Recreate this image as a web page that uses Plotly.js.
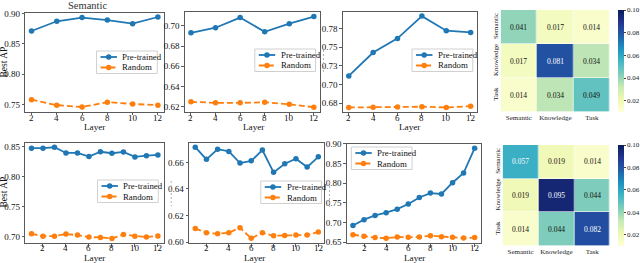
<!DOCTYPE html>
<html>
<head>
<meta charset="utf-8">
<script src="https://cdn.plot.ly/plotly-3.0.1.min.js"></script>
<style>html,body{margin:0;padding:0;background:#fff;}#chart{width:640px;height:263px;}</style>
</head>
<body>
<div id="chart"></div>
<script>
// ---------- data ----------
const layersTop = [2, 4, 6, 8, 10, 12];
const layersBottom = [1, 2, 3, 4, 5, 6, 7, 8, 9, 10, 11, 12];

const semPreTop   = [0.871, 0.887, 0.893, 0.889, 0.883, 0.894];
const semRandTop  = [0.758, 0.749, 0.746, 0.754, 0.751, 0.749];
const knowPreTop  = [0.693, 0.698, 0.708, 0.694, 0.702, 0.709];
const knowRandTop = [0.625, 0.624, 0.624, 0.6245, 0.6226, 0.6197];
const taskPreTop  = [0.7115, 0.743, 0.762, 0.792, 0.7723, 0.770];
const taskRandTop = [0.669, 0.6693, 0.6695, 0.670, 0.669, 0.6707];

const semPreBot   = [0.848, 0.848, 0.8495, 0.840, 0.840, 0.834, 0.842, 0.8395, 0.8417, 0.8333, 0.8355, 0.8366];
const semRandBot  = [0.7045, 0.7006, 0.7006, 0.704, 0.7023, 0.699, 0.6984, 0.6967, 0.7034, 0.7006, 0.699, 0.701];
const knowPreBot  = [0.6715, 0.6623, 0.670, 0.6683, 0.6595, 0.6612, 0.6693, 0.6525, 0.659, 0.6628, 0.6565, 0.6642];
const knowRandBot = [0.6103, 0.607, 0.6063, 0.607, 0.6108, 0.6028, 0.607, 0.6047, 0.605, 0.6053, 0.6053, 0.6075];
const taskPreBot  = [0.6924, 0.7074, 0.718, 0.725, 0.734, 0.747, 0.7636, 0.775, 0.7727, 0.8013, 0.826, 0.889];
const taskRandBot = [0.669, 0.665, 0.6617, 0.660, 0.6633, 0.6625, 0.6633, 0.6666, 0.664, 0.6625, 0.6608, 0.6617];

const seriesNames = ['Pre-trained', 'Random'];
const heatCats = ['Semantic', 'Knowledge', 'Task'];
const heatTop = [[0.041, 0.017, 0.014], [0.017, 0.081, 0.034], [0.014, 0.034, 0.049]];
const heatBot = [[0.057, 0.019, 0.014], [0.019, 0.095, 0.044], [0.014, 0.044, 0.082]];
const colorbarTicks = [0.02, 0.04, 0.06, 0.08, 0.10];

const yTicksP1 = [0.75, 0.80, 0.85, 0.90];
const yTicksP2 = [0.62, 0.64, 0.66, 0.68, 0.70];
const yTicksP3 = [0.675, 0.70, 0.725, 0.75, 0.775];
const yTextP3  = ['0.68', '0.70', '0.73', '0.75', '0.78'];
const yTicksP4 = [0.70, 0.75, 0.80, 0.85];
const yTicksP5 = [0.60, 0.62, 0.64, 0.66];
const yTicksP6 = [0.65, 0.70, 0.75, 0.80, 0.85, 0.90];
const xTicks = [2, 4, 6, 8, 10, 12];

// ---------- helpers ----------
const W = 640, H = 263;
const px = x => x / W;
const py = y => 1 - y / H;
const SERIF = 'Liberation Serif';
const BLUE = '#1f77b4', ORANGE = '#ff7f0e';
const FRAME = '#5a5a5a';

const panels = [
  {id: 1, xd: [25.3, 165], yd: [12.5, 111.5], xr: [1.5, 12.5], yr: [0.7386, 0.9014], yt: yTicksP1, x: layersTop, pre: semPreTop, rand: semRandTop, leg: [97, 51], tl: 118},
  {id: 2, xd: [185.7, 321.5], yd: [11.5, 112], xr: [1.5, 12.5], yr: [0.6150, 0.7140], yt: yTicksP2, x: layersTop, pre: knowPreTop, rand: knowRandTop, leg: [256, 49], tl: 118},
  {id: 3, xd: [344.3, 479], yd: [11.5, 112], xr: [1.5, 12.5], yr: [0.6629, 0.7982], yt: yTicksP3, ytx: yTextP3, x: layersTop, pre: taskPreTop, rand: taskRandTop, leg: [414, 49], tl: 118},
  {id: 5, xd: [25.3, 165], yd: [142.5, 243], xr: [0.45, 12.55], yr: [0.6891, 0.8575], yt: yTicksP4, x: layersBottom, pre: semPreBot, rand: semRandBot, leg: [98, 180], tl: 248},
  {id: 6, xd: [190, 326], yd: [142.5, 243], xr: [0.45, 12.55], yr: [0.5993, 0.6750], yt: yTicksP5, x: layersBottom, pre: knowPreBot, rand: knowRandBot, leg: [262, 181], tl: 248},
  {id: 7, xd: [348.5, 483], yd: [143.5, 243], xr: [0.45, 12.55], yr: [0.6480, 0.9010], yt: yTicksP6, x: layersBottom, pre: taskPreBot, rand: taskRandBot, leg: [353, 147], tl: 248}
];

const traces = [];
const layout = {
  width: W, height: H,
  margin: {l: 0, r: 0, t: 0, b: 0},
  paper_bgcolor: '#fff', plot_bgcolor: '#fff',
  showlegend: false,
  font: {family: SERIF, size: 9, color: '#111'},
  annotations: [], shapes: []
};

function ax(id) { return id === 1 ? '' : String(id); }

panels.forEach(p => {
  const s = ax(p.id);
  traces.push({
    type: 'scatter', mode: 'lines+markers', name: seriesNames[0],
    x: p.x, y: p.pre, xaxis: 'x' + s, yaxis: 'y' + s,
    line: {color: BLUE, width: 1.8}, marker: {color: BLUE, size: 5.5}, hoverinfo: 'skip'
  });
  traces.push({
    type: 'scatter', mode: 'lines+markers', name: seriesNames[1],
    x: p.x, y: p.rand, xaxis: 'x' + s, yaxis: 'y' + s,
    line: {color: ORANGE, width: 1.8, dash: '6px,3px'}, marker: {color: ORANGE, size: 5.5}, hoverinfo: 'skip'
  });
  const common = {
    showline: true, mirror: true, linecolor: FRAME, linewidth: 1,
    ticks: 'outside', ticklen: 2.5, tickwidth: 1, tickcolor: FRAME,
    showgrid: false, zeroline: false,
    tickfont: {family: SERIF, size: 9, color: '#111'}, fixedrange: true
  };
  layout['xaxis' + s] = Object.assign({}, common, {
    domain: [px(p.xd[0]), px(p.xd[1])], range: p.xr, anchor: 'y' + s,
    tickvals: xTicks, showticklabels: false
  });
  layout['yaxis' + s] = Object.assign({}, common, {
    domain: [py(p.yd[1]), py(p.yd[0])], range: p.yr, anchor: 'x' + s,
    tickvals: p.yt, ticktext: p.ytx ? p.ytx : p.yt.map(v => v.toFixed(2))
  });
  // x tick labels placed through the x axis scale
  xTicks.forEach(t => layout.annotations.push({xref: 'x' + s, yref: 'paper', x: t, y: py(p.tl),
    text: String(t), showarrow: false, xanchor: 'center', yanchor: 'middle',
    font: {family: SERIF, size: 9, color: '#111'}}));

  // legend box (matplotlib style)
  const L = p.leg[0], T = p.leg[1];
  layout.shapes.push({type: 'rect', xref: 'paper', yref: 'paper',
    x0: px(L), x1: px(L + 61), y0: py(T + 22.5), y1: py(T),
    line: {color: '#d0d0d0', width: 1}, fillcolor: 'rgba(255,255,255,0.85)', layer: 'above'});
  const rows = [[BLUE, 'solid', T + 6], [ORANGE, '6px,3px', T + 16.5]];
  rows.forEach((r, i) => {
    layout.shapes.push({type: 'line', xref: 'paper', yref: 'paper',
      x0: px(L + 4), x1: px(L + 20.5), y0: py(r[2]), y1: py(r[2]),
      line: {color: r[0], width: 1.8, dash: r[1]}, layer: 'above'});
    layout.shapes.push({type: 'circle', xref: 'paper', yref: 'paper',
      xsizemode: 'pixel', ysizemode: 'pixel', xanchor: px(L + 12.2), yanchor: py(r[2]),
      x0: -2.75, x1: 2.75, y0: -2.75, y1: 2.75,
      line: {color: r[0], width: 0}, fillcolor: r[0], layer: 'above'});
    layout.annotations.push({xref: 'paper', yref: 'paper', x: px(L + 24), y: py(r[2]),
      xanchor: 'left', yanchor: 'middle', showarrow: false, text: seriesNames[i],
      font: {family: SERIF, size: 8.8, color: '#111'}});
  });
});

// ---------- heatmaps ----------
const ylgnbu = [
  [0.0, '#ffffd9'], [0.125, '#edf8b1'], [0.25, '#c7e9b4'], [0.375, '#7fcdbb'],
  [0.5, '#41b6c4'], [0.625, '#1d91c0'], [0.75, '#225ea8'], [0.875, '#253494'], [1.0, '#081d58']
];
const ZMIN = 0.01, ZMAX = 0.10;
const heats = [
  {id: 4, z: heatTop, xd: [503, 613], yd: [10, 112]},
  {id: 8, z: heatBot, xd: [505, 613], yd: [145, 246]}
];
heats.forEach(h => {
  const s = String(h.id);
  traces.push({
    type: 'heatmap', x: heatCats, y: heatCats, z: h.z, xaxis: 'x' + s, yaxis: 'y' + s,
    zmin: ZMIN, zmax: ZMAX, colorscale: ylgnbu, xgap: 0.6, ygap: 0.6, hoverinfo: 'skip',
    colorbar: {
      x: px(621), xanchor: 'left', y: py((h.yd[0] + h.yd[1]) / 2), yanchor: 'middle',
      len: h.yd[1] - h.yd[0], lenmode: 'pixels', thickness: 6, thicknessmode: 'pixels',
      outlinewidth: 0, ticks: 'outside', ticklen: 2, tickcolor: '#444',
      tickvals: colorbarTicks, ticktext: colorbarTicks.map(v => v.toFixed(2)),
      tickfont: {family: SERIF, size: 7, color: '#222'}, xpad: 0, ypad: 0
    }
  });
  layout['xaxis' + s] = {
    domain: [px(h.xd[0]), px(h.xd[1])], anchor: 'y' + s, type: 'category',
    showline: false, showgrid: false, zeroline: false, ticks: '', fixedrange: true,
    tickfont: {family: SERIF, size: 7, color: '#222'}
  };
  layout['yaxis' + s] = {
    domain: [py(h.yd[1]), py(h.yd[0])], anchor: 'x' + s, type: 'category',
    autorange: 'reversed', tickangle: -90,
    showline: false, showgrid: false, zeroline: false, ticks: '', fixedrange: true,
    tickfont: {family: SERIF, size: 7, color: '#222'}
  };
  h.z.forEach((row, i) => row.forEach((v, j) => {
    const t = (v - ZMIN) / (ZMAX - ZMIN);
    layout.annotations.push({xref: 'x' + s, yref: 'y' + s, x: heatCats[j], y: heatCats[i],
      text: v.toFixed(3), showarrow: false,
      font: {family: SERIF, size: 7.5, color: t > 0.5 ? '#ffffff' : '#111111'}});
  }));
});

// ---------- titles ----------
layout.annotations.push({xref: 'paper', yref: 'paper', x: px(88), y: py(5), text: 'Semantic',
  showarrow: false, xanchor: 'center', yanchor: 'middle', font: {family: SERIF, size: 10.5, color: '#333'}});
[[4.5, 62], [4.5, 192]].forEach(c => layout.annotations.push({xref: 'paper', yref: 'paper',
  x: px(c[0]), y: py(c[1]), text: 'Best AP', textangle: -90, showarrow: false,
  xanchor: 'center', yanchor: 'middle', font: {family: SERIF, size: 9.5, color: '#111'}}));
[[95, 127], [255, 127], [411, 127], [95, 257.5], [256, 257.5], [416, 257.5]].forEach(c =>
  layout.annotations.push({xref: 'paper', yref: 'paper', x: px(c[0]), y: py(c[1]), text: 'Layer',
    showarrow: false, xanchor: 'center', yanchor: 'middle', font: {family: SERIF, size: 9.2, color: '#111'}}));

// faint clipped label remnants
[[325, 50, 73], [172, 181, 206], [331, 182, 207]].forEach(c => layout.shapes.push({
  type: 'line', xref: 'paper', yref: 'paper', x0: px(c[0]), x1: px(c[0]), y0: py(c[1]), y1: py(c[2]),
  line: {color: '#b0b0b0', width: 1, dash: '2px,2px'}}));

Plotly.newPlot('chart', traces, layout, {staticPlot: true, displayModeBar: false});
</script>
</body>
</html>
